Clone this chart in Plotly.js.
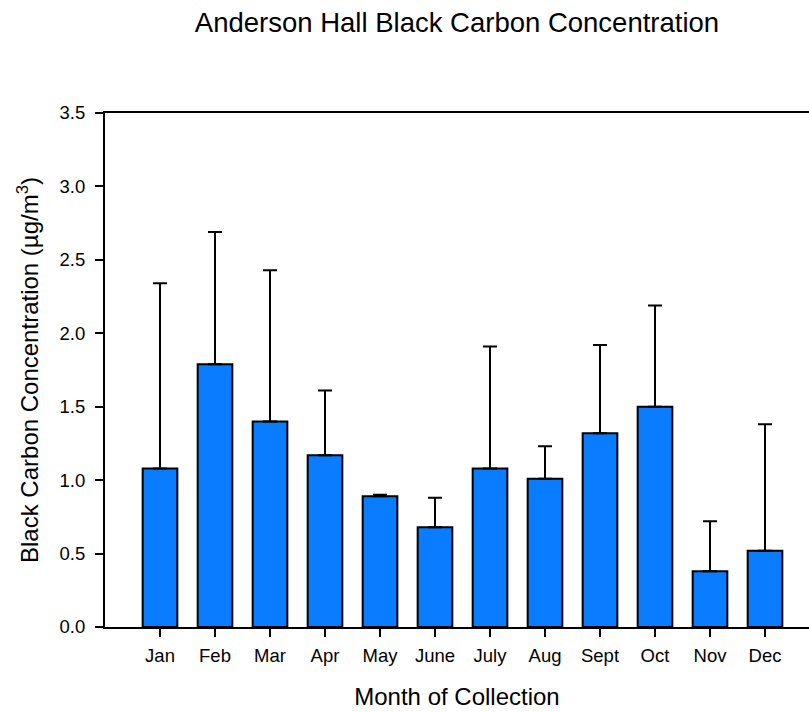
<!DOCTYPE html>
<html>
<head>
<meta charset="utf-8">
<script src="https://cdn.plot.ly/plotly-3.0.1.min.js"></script>
<style>
  html, body { margin: 0; padding: 0; background: #fff; }
  #chart { width: 809px; height: 712px; }
</style>
</head>
<body>
<div id="chart"></div>
<script>
// Monthly mean black carbon concentration (µg/m³) with upper standard deviation
const months = ["Jan", "Feb", "Mar", "Apr", "May", "June", "July", "Aug", "Sept", "Oct", "Nov", "Dec"];
const meanBC = [1.08, 1.79, 1.40, 1.17, 0.89, 0.68, 1.08, 1.01, 1.32, 1.50, 0.38, 0.52];
const sdBC   = [1.26, 0.90, 1.03, 0.44, 0.01, 0.20, 0.83, 0.22, 0.60, 0.69, 0.34, 0.86];
const yTicks = [0, 0.5, 1.0, 1.5, 2.0, 2.5, 3.0, 3.5];
const yTickText = ["0.0", "0.5", "1.0", "1.5", "2.0", "2.5", "3.0", "3.5"];

const FONT = "Arial, 'Liberation Sans', sans-serif";

const trace = {
  type: "bar",
  x: months.map((_, i) => i),
  y: meanBC,
  width: 0.63,
  marker: { color: "#0a7cff", line: { color: "#000", width: 2 } },
  error_y: {
    type: "data",
    symmetric: false,
    array: sdBC,
    arrayminus: sdBC.map(() => 0),
    color: "#000",
    thickness: 2,
    width: 7
  },
  hoverinfo: "skip"
};

const layout = {
  width: 809,
  height: 712,
  margin: { l: 105, r: 0, t: 113, b: 85 },
  paper_bgcolor: "#fff",
  plot_bgcolor: "#fff",
  showlegend: false,
  font: { family: FONT, color: "#000" },
  title: {
    text: "Anderson Hall Black Carbon Concentration",
    font: { family: FONT, size: 27.5, color: "#000" },
    x: 0.5, xref: "paper", xanchor: "center",
    y: 0.969, yref: "container", yanchor: "middle"
  },
  xaxis: {
    range: [-1, 11.8],
    tickmode: "array",
    tickvals: months.map((_, i) => i),
    ticktext: months,
    ticks: "outside",
    ticklen: 8,
    tickwidth: 2,
    tickcolor: "#000",
    ticklabelstandoff: 3,
    showline: true,
    linecolor: "#000",
    linewidth: 2,
    mirror: true,
    showgrid: false,
    zeroline: false,
    tickfont: { family: FONT, size: 18.5, color: "#000" },
    title: {
      text: "Month of Collection",
      font: { family: FONT, size: 24, color: "#000" },
      standoff: 23
    }
  },
  yaxis: {
    range: [0, 3.5],
    tickmode: "array",
    tickvals: yTicks,
    ticktext: yTickText,
    ticks: "outside",
    ticklen: 8,
    tickwidth: 2,
    tickcolor: "#000",
    ticklabelstandoff: 6,
    showline: true,
    linecolor: "#000",
    linewidth: 2,
    showgrid: false,
    zeroline: false,
    tickfont: { family: FONT, size: 18.5, color: "#000" },
    title: {
      text: "Black Carbon Concentration (µg/m<sup>3</sup>)",
      font: { family: FONT, size: 24, color: "#000" },
      standoff: 14
    }
  }
};

Plotly.newPlot("chart", [trace], layout, { displayModeBar: false, staticPlot: true });
</script>
</body>
</html>
